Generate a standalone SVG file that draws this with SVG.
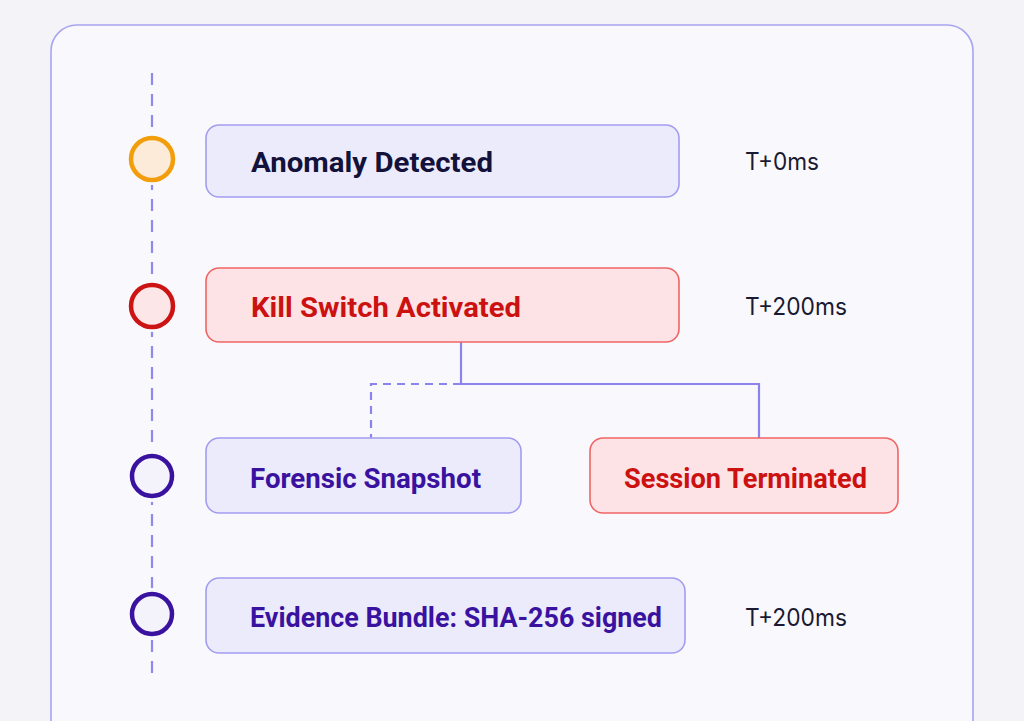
<svg xmlns="http://www.w3.org/2000/svg" width="1024" height="721" viewBox="0 0 1024 721">
<style>
.node{stroke-width:1.6}
.pur{fill:#ecebfb;stroke:#a29df0}
.red{fill:#fde3e5;stroke:#f06464}
.lbl{font-family:Roboto,"Liberation Sans",sans-serif;font-weight:700;font-size:28px}
.lp{fill:#3a12a0}
.lr{fill:#cc1111}
.ld{fill:#12123a}
.time{font-family:Inter,"Liberation Sans",sans-serif;font-size:24px;fill:#1a1a33}
.dot{stroke-width:4.5}
.conn{fill:none;stroke:#8a84ec;stroke-width:2.2}
</style>
<rect x="0" y="0" width="1024" height="721" fill="#f3f3f8"/>
<rect x="51" y="25" width="922" height="730" rx="26" fill="#f9f9fd" stroke="#a8a4f0" stroke-width="1.6"/>
<g id="timeline">
<line x1="152" y1="73" x2="152" y2="680" stroke="#8f89ee" stroke-width="2.2" stroke-dasharray="12,9"/>
</g>
<g id="connectors">
<polyline class="conn" points="461,342 461,384 759,384 759,438"/>
<polyline class="conn" points="461,384 371,384 371,438" stroke-dasharray="8,6"/>
</g>
<g id="dot1"><circle cx="152" cy="159" r="26" fill="#f9f9fd"/><circle class="dot" cx="152" cy="159" r="21" fill="#fdebd9" stroke="#f29d0c"/></g>
<g id="dot2"><circle cx="152" cy="306" r="26" fill="#f9f9fd"/><circle class="dot" cx="152" cy="306" r="21" fill="#fde6e8" stroke="#cc1414"/></g>
<g id="dot3"><circle cx="152" cy="476" r="26" fill="#f9f9fd"/><circle class="dot" cx="152" cy="476" r="20" fill="#f4f3fc" stroke="#3a12a0"/></g>
<g id="dot4"><circle cx="152" cy="614" r="26" fill="#f9f9fd"/><circle class="dot" cx="152" cy="614" r="20" fill="#f4f3fc" stroke="#3a12a0"/></g>
<g id="anomaly">
<rect class="node pur" x="206" y="125" width="473" height="72" rx="13"/>
<text class="lbl ld" x="251" y="172" textLength="242" lengthAdjust="spacingAndGlyphs">Anomaly Detected</text>
</g>
<g id="killswitch">
<rect class="node red" x="206" y="268" width="473" height="74" rx="13"/>
<text class="lbl lr" x="251" y="317" textLength="270" lengthAdjust="spacingAndGlyphs">Kill Switch Activated</text>
</g>
<g id="forensic">
<rect class="node pur" x="206" y="438" width="315" height="75" rx="13"/>
<text class="lbl lp" x="250" y="488" textLength="231" lengthAdjust="spacingAndGlyphs">Forensic Snapshot</text>
</g>
<g id="session">
<rect class="node red" x="590" y="438" width="308" height="75" rx="13"/>
<text class="lbl lr" x="624" y="488" textLength="243" lengthAdjust="spacingAndGlyphs">Session Terminated</text>
</g>
<g id="evidence">
<rect class="node pur" x="206" y="578" width="479" height="75" rx="13"/>
<text class="lbl lp" x="250" y="627" textLength="412" lengthAdjust="spacingAndGlyphs">Evidence Bundle: SHA-256 signed</text>
</g>
<g id="times">
<text class="time" x="745" y="170" textLength="74" lengthAdjust="spacingAndGlyphs">T+0ms</text>
<text class="time" x="745" y="315" textLength="102" lengthAdjust="spacingAndGlyphs">T+200ms</text>
<text class="time" x="745" y="626" textLength="102" lengthAdjust="spacingAndGlyphs">T+200ms</text>
</g>
</svg>
